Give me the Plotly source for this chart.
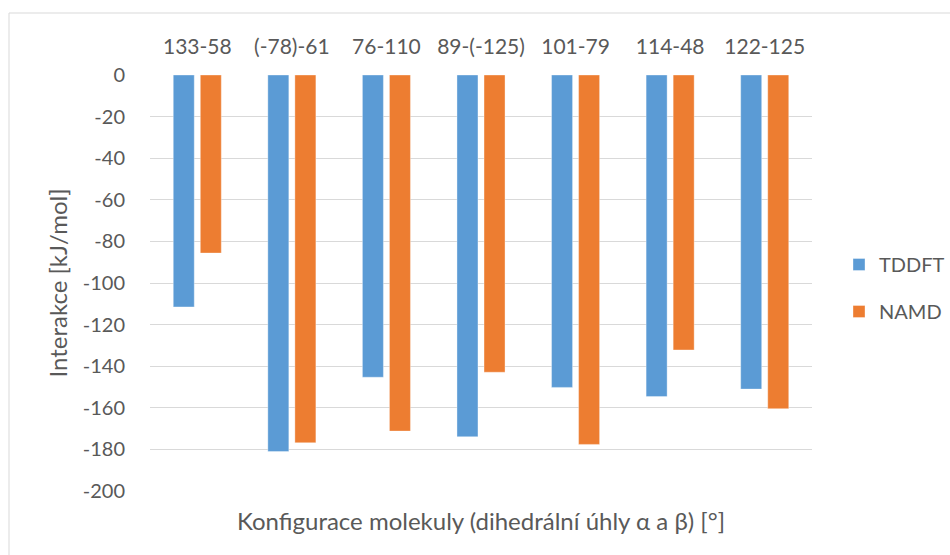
import plotly.graph_objects as go

# Dihedral configurations (alpha-beta) and interaction energies [kJ/mol]
configurations = ["133-58", "(-78)-61", "76-110", "89-(-125)", "101-79", "114-48", "122-125"]
tddft = [-111.5, -181, -145.3, -173.9, -150.2, -154.6, -151]
namd = [-85.6, -176.8, -171.2, -142.9, -177.6, -132.2, -160.4]

# y-axis ticks, written with a plain hyphen for the sign
y_tickvals = [0, -20, -40, -60, -80, -100, -120, -140, -160, -180, -200]
y_ticktext = ["0", "-20", "-40", "-60", "-80", "-100", "-120", "-140", "-160", "-180", "-200"]

FONT = "Lato"
TEXT = "#595959"
GRID = "#d9d9d9"

W, H = 950, 555
ML, MR, MT, MB = 150, 138, 75, 64
PW, PH = W - ML - MR, H - MT - MB

fig = go.Figure()
fig.add_trace(go.Bar(
    x=configurations, y=tddft, name="TDDFT", legendgroup="a",
    marker=dict(color="#5B9BD5", line=dict(color="rgba(255,255,255,0.35)", width=1)),
    width=0.222, offset=-0.254,
))
fig.add_trace(go.Bar(
    x=configurations, y=namd, name="NAMD", legendgroup="b",
    marker=dict(color="#ED7D31", line=dict(color="rgba(255,255,255,0.35)", width=1)),
    width=0.222, offset=0.032,
))

fig.update_layout(
    width=W, height=H,
    margin=dict(l=ML, r=MR, t=MT, b=MB, autoexpand=False),
    paper_bgcolor="white", plot_bgcolor="white",
    font=dict(family=FONT, size=20, color=TEXT),
    showlegend=True,
    legend=dict(
        x=(839 - ML) / PW, xanchor="left",
        y=(H - MB - 288) / PH, yanchor="middle",
        font=dict(size=20, color=TEXT),
        tracegroupgap=18,
        bgcolor="rgba(0,0,0,0)",
    ),
    xaxis=dict(
        side="top", showgrid=False, zeroline=False, showline=False,
        ticks="outside", ticklen=12, tickcolor="rgba(0,0,0,0)",
        tickfont=dict(size=21, color=TEXT),
    ),
    yaxis=dict(
        range=[-200, 0], tickvals=y_tickvals, ticktext=y_ticktext,
        showgrid=True, gridcolor=GRID, gridwidth=1,
        zeroline=False, showline=False,
        ticks="outside", ticklen=20, tickcolor="rgba(0,0,0,0)",
        tickfont=dict(size=20, color=TEXT),
        title=dict(text="Interakce [kJ/mol]", font=dict(size=24, color=TEXT), standoff=8),
    ),
    annotations=[dict(
        text="Konfigurace molekuly (dihedrální úhly α a β) [°]",
        xref="paper", yref="paper", x=0.5, y=(H - MB - 520) / PH,
        xanchor="center", yanchor="middle", showarrow=False,
        font=dict(size=24, color=TEXT),
    )],
    shapes=[dict(
        type="rect", xref="paper", yref="paper",
        x0=(9 - ML) / PW, x1=(W + 10 - ML) / PW,
        y0=(H - MB - (H + 10)) / PH, y1=(H - MB - 13) / PH,
        line=dict(color=GRID, width=1), fillcolor="rgba(0,0,0,0)", layer="below",
    )],
)

fig.write_html("out.html")
